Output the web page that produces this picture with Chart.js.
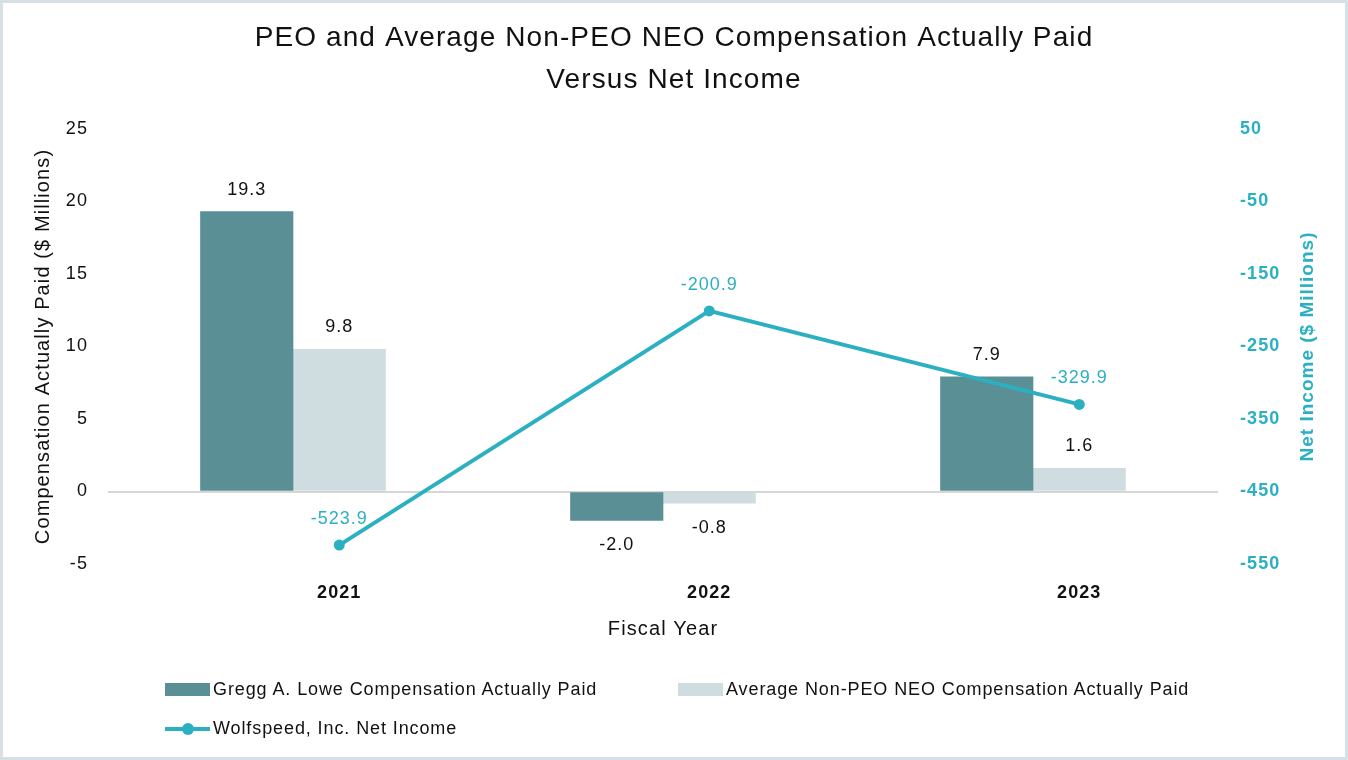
<!DOCTYPE html>
<html>
<head>
<meta charset="utf-8">
<script src="https://cdn.jsdelivr.net/npm/chart.js@4"></script>
<style>
  html, body { margin: 0; padding: 0; background: #fff; }
  #wrap { position: relative; width: 1348px; height: 760px; }
  #frame { position: absolute; left: 0; top: 0; width: 1342px; height: 754px; border: 3px solid #d6e1e6; pointer-events: none; }
  #legend { position: absolute; left: 165px; top: 670px; font-family: "Liberation Sans", Arial, sans-serif; font-size: 18px; letter-spacing: 0.9px; color: #111; }
  .row { display: flex; height: 39px; align-items: center; }
  .item { display: flex; align-items: center; width: 513px; white-space: nowrap; }
  .sw { width: 45px; height: 13px; margin-right: 3px; position: relative; }
</style>
</head>
<body>
<div id="wrap">
  <canvas id="chart" width="1348" height="760"></canvas>
  <div id="legend"></div>
  <div id="frame"></div>
</div>
<script>
const years = ['2021', '2022', '2023'];
const ceoPay = [19.3, -2.0, 7.9];
const neoPay = [9.8, -0.8, 1.6];
const netIncome = [-523.9, -200.9, -329.9];

const darkTeal = '#5a8f96';
const lightGrey = '#cfdde1';
const lineTeal = '#2bb0c2';
const font = '"Liberation Sans", Arial, sans-serif';

// a bit of tracking so Liberation Sans gets as wide as the original face
const spacing = {
  id: 'spacing',
  beforeDraw(chart) { chart.ctx.letterSpacing = '1.1px'; }
};

// value labels above/below bars and line points
const valueLabels = {
  id: 'valueLabels',
  afterDatasetsDraw(chart) {
    const ctx = chart.ctx;
    ctx.save();
    ctx.letterSpacing = '1px';
    ctx.font = '18px ' + font;
    ctx.textAlign = 'center';
    ctx.textBaseline = 'middle';
    chart.data.datasets.forEach((ds, i) => {
      const meta = chart.getDatasetMeta(i);
      meta.data.forEach((el, j) => {
        const v = ds.type === 'line' ? ds.data[j].y : ds.data[j];
        const txt = v.toFixed(1);
        if (ds.type === 'line') {
          ctx.fillStyle = lineTeal;
          ctx.fillText(txt, el.x, el.y - 26);
        } else {
          ctx.fillStyle = '#111';
          if (v >= 0) ctx.fillText(txt, el.x, el.y - 22);
          else ctx.fillText(txt, el.x, el.y + 25);
        }
      });
    });
    // right axis title, reading bottom to top
    ctx.translate(1308, (chart.chartArea.top + chart.chartArea.bottom) / 2);
    ctx.rotate(-Math.PI / 2);
    ctx.font = 'bold 19px ' + font;
    ctx.fillStyle = lineTeal;
    ctx.fillText('Net Income ($ Millions)', 0, 0);
    ctx.restore();
  }
};

// line first in the list: bars then sit in the middle slots of each year
const chart = new Chart(document.getElementById('chart'), {
  data: {
    labels: years,
    datasets: [
      {
        type: 'line',
        label: 'Wolfspeed, Inc. Net Income',
        data: netIncome.map((v, i) => ({ x: i, y: v })),
        borderColor: lineTeal,
        backgroundColor: lineTeal,
        borderWidth: 4,
        pointRadius: 5.5,
        pointBackgroundColor: lineTeal,
        pointBorderWidth: 0,
        xAxisID: 'x2',
        yAxisID: 'y2',
        order: 1
      },
      {
        type: 'bar',
        label: 'Gregg A. Lowe Compensation Actually Paid',
        data: ceoPay,
        backgroundColor: darkTeal,
        xAxisID: 'x',
        yAxisID: 'y',
        barPercentage: 1.0,
        categoryPercentage: 1.0,
        order: 2
      },
      {
        type: 'bar',
        label: 'Average Non-PEO NEO Compensation Actually Paid',
        data: neoPay,
        backgroundColor: lightGrey,
        xAxisID: 'x',
        yAxisID: 'y',
        barPercentage: 1.0,
        categoryPercentage: 1.0,
        order: 2
      }
    ]
  },
  options: {
    responsive: false,
    animation: false,
    layout: { padding: { top: 0, left: 0, right: 0, bottom: 119 } },
    plugins: {
      legend: { display: false },
      tooltip: { enabled: false },
      title: {
        display: true,
        text: ['PEO and Average Non-PEO NEO Compensation Actually Paid', 'Versus Net Income'],
        color: '#111',
        font: { family: font, size: 28, weight: 'normal', lineHeight: 1.5 },
        padding: { top: 17, bottom: 28 }
      }
    },
    scales: {
      x: {
        type: 'category',
        position: 'bottom',
        offset: true,
        afterFit(scale) { scale.height = 0; },
        grid: { display: false, drawTicks: false },
        border: { display: false },
        ticks: { display: false }
      },
      x2: {
        type: 'linear',
        position: 'bottom',
        min: -0.625,
        max: 2.375,
        afterBuildTicks(scale) {
          scale.ticks = years.map((y, i) => ({ value: i }));
        },
        afterFit(scale) { scale.height = 77; },
        grid: { display: false, drawTicks: false },
        border: { display: false },
        ticks: {
          padding: 18,
          maxRotation: 0,
          color: '#111',
          font: { family: font, size: 18, weight: 'bold' },
          callback: (v) => years[v]
        },
        title: {
          display: true,
          text: 'Fiscal Year',
          color: '#111',
          font: { family: font, size: 20 },
          padding: { top: 0, bottom: 0 }
        }
      },
      y: {
        position: 'left',
        min: -5,
        max: 25,
        afterFit(scale) { scale.width = 108; },
        grid: {
          drawTicks: false,
          lineWidth: 2,
          color: (c) => c.tick && c.tick.value === 0 ? '#d6d6d6' : 'transparent'
        },
        border: { display: false },
        ticks: {
          stepSize: 5,
          padding: 20,
          color: '#111',
          font: { family: font, size: 18 }
        },
        title: {
          display: true,
          text: 'Compensation Actually Paid ($ Millions)',
          color: '#111',
          font: { family: font, size: 20 },
          padding: { top: 31, bottom: 0 }
        }
      },
      y2: {
        position: 'right',
        min: -550,
        max: 50,
        afterFit(scale) { scale.width = 130; },
        grid: { display: false, drawTicks: false },
        border: { display: false },
        ticks: {
          stepSize: 100,
          padding: 22,
          color: lineTeal,
          font: { family: font, size: 18, weight: 'bold' }
        }
      }
    }
  },
  plugins: [spacing, valueLabels]
});

// legend built from the datasets
const legend = document.getElementById('legend');
const ds = chart.data.datasets;
const rows = [[ds[1], ds[2]], [ds[0]]];
rows.forEach(r => {
  const row = document.createElement('div');
  row.className = 'row';
  r.forEach(d => {
    const item = document.createElement('div');
    item.className = 'item';
    const sw = document.createElement('div');
    sw.className = 'sw';
    if (d.type === 'line') {
      sw.style.height = '12px';
      sw.innerHTML = '<div style="position:absolute;left:0;right:0;top:4px;height:4px;background:' + d.borderColor +
        '"></div><div style="position:absolute;left:17px;top:0;width:12px;height:12px;border-radius:6px;background:' + d.borderColor + '"></div>';
    } else {
      sw.style.background = d.backgroundColor;
    }
    const t = document.createElement('span');
    t.textContent = d.label;
    item.appendChild(sw);
    item.appendChild(t);
    row.appendChild(item);
  });
  legend.appendChild(row);
});
</script>
</body>
</html>
